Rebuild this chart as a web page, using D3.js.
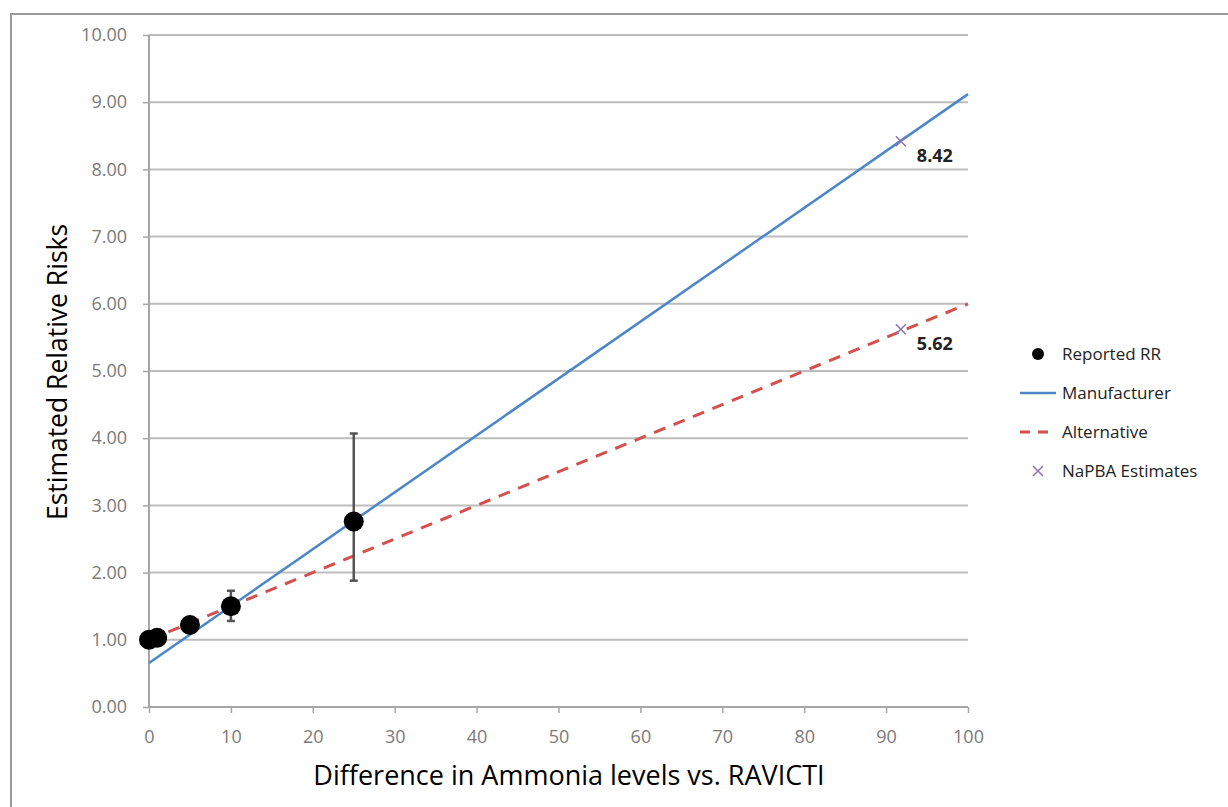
<!DOCTYPE html>
<html>
<head>
<meta charset="utf-8">
<script src="https://cdn.jsdelivr.net/npm/d3@7"></script>
<style>
  body { margin: 0; background: #fff; }
  svg { display: block; font-family: "Open Sans", sans-serif; }
</style>
</head>
<body>
<svg id="chart" width="1228" height="807"></svg>
<script>
// reported relative risks with error bars
const reportedX = [0, 1, 5, 10, 25];
const reportedY = [1.0, 1.03, 1.22, 1.50, 2.76];
const errLow = [null, null, null, 1.28, 1.88];
const errHigh = [null, null, null, 1.73, 4.07];

// fitted lines (endpoints)
const manufacturerLine = [{ x: 0, y: 0.655 }, { x: 100, y: 9.12 }];
const alternativeLine = [{ x: 0, y: 1.0 }, { x: 100, y: 6.0 }];

// NaPBA estimates
const estimatesX = [91.8, 91.8];
const estimatesY = [8.42, 5.62];
const estimateLabels = ['8.42', '5.62'];

const xTicks = [0, 10, 20, 30, 40, 50, 60, 70, 80, 90, 100];
const yTicks = [0, 1, 2, 3, 4, 5, 6, 7, 8, 9, 10];

const svg = d3.select('#chart');

// outer frame (left and top edges only visible)
svg.append('path')
	.attr('d', 'M11,807 V14 H1228')
	.attr('fill', 'none')
	.attr('stroke', '#9a9a9a')
	.attr('stroke-width', 2);

const x = d3.scaleLinear().domain([0, 100]).range([149, 968]);
const y = d3.scaleLinear().domain([0, 10]).range([707, 35]);

// gridlines
svg.append('g').selectAll('line').data(yTicks.slice(1)).enter()
	.append('line')
	.attr('x1', x(0)).attr('x2', x(100))
	.attr('y1', d => y(d)).attr('y2', d => y(d))
	.attr('stroke', '#bdbdbd').attr('stroke-width', 2);

// y axis
const yAxis = svg.append('g')
	.attr('transform', 'translate(' + x(0) + ',0)')
	.call(d3.axisLeft(y).tickValues(yTicks).tickFormat(d3.format('.2f')).tickSize(6).tickPadding(16));
// x axis
const xAxis = svg.append('g')
	.attr('transform', 'translate(0,' + y(0) + ')')
	.call(d3.axisBottom(x).tickValues(xTicks).tickSize(6).tickPadding(17));

[yAxis, xAxis].forEach(a => {
	a.select('.domain').attr('stroke', '#a6a6a6').attr('stroke-width', 2);
	a.selectAll('.tick line').attr('stroke', '#a6a6a6').attr('stroke-width', 1.5);
	a.selectAll('.tick text').attr('fill', '#7a7a7a').style('font-size', '18px')
		.style('font-family', '"Open Sans", sans-serif');
});
xAxis.select('.domain').attr('d', 'M' + x(0) + ',0H' + x(100));
yAxis.select('.domain').attr('d', 'M0,' + y(0) + 'V' + y(10));

const line = d3.line().x(d => x(d.x)).y(d => y(d.y));

svg.append('path').datum(alternativeLine)
	.attr('d', line)
	.attr('fill', 'none')
	.attr('stroke', '#d2504d')
	.attr('stroke-width', 3)
	.attr('stroke-dasharray', '12,9');

svg.append('path').datum(manufacturerLine)
	.attr('d', line)
	.attr('fill', 'none')
	.attr('stroke', '#4a86c8')
	.attr('stroke-width', 2.5);

// error bars
const errData = reportedX.map((v, i) => ({ x: v, lo: errLow[i], hi: errHigh[i] })).filter(d => d.lo !== null);
const eb = svg.append('g').selectAll('g').data(errData).enter().append('g')
	.attr('stroke', '#555').attr('stroke-width', 2.5);
eb.append('line')
	.attr('x1', d => x(d.x)).attr('x2', d => x(d.x))
	.attr('y1', d => y(d.lo)).attr('y2', d => y(d.hi));
eb.append('line')
	.attr('x1', d => x(d.x) - 4).attr('x2', d => x(d.x) + 4)
	.attr('y1', d => y(d.lo)).attr('y2', d => y(d.lo));
eb.append('line')
	.attr('x1', d => x(d.x) - 4).attr('x2', d => x(d.x) + 4)
	.attr('y1', d => y(d.hi)).attr('y2', d => y(d.hi));

// reported points
svg.append('g').selectAll('circle').data(reportedX).enter()
	.append('circle')
	.attr('cx', d => x(d))
	.attr('cy', (d, i) => y(reportedY[i]))
	.attr('r', 10)
	.attr('fill', '#000');

// NaPBA estimates
const est = svg.append('g').selectAll('g').data(estimatesX).enter().append('g')
	.attr('transform', (d, i) => 'translate(' + x(d) + ',' + y(estimatesY[i]) + ')');
est.append('path')
	.attr('d', 'M-5,-5L5,5M-5,5L5,-5')
	.attr('stroke', '#8e72b8').attr('stroke-width', 1.5);
est.append('text')
	.attr('x', 16).attr('y', 21)
	.attr('font-size', 18).attr('font-weight', 'bold').attr('fill', '#222')
	.text((d, i) => estimateLabels[i]);

// axis titles
svg.append('text')
	.attr('x', 569).attr('y', 785)
	.attr('text-anchor', 'middle')
	.attr('font-size', 27).attr('fill', '#000')
	.text('Difference in Ammonia levels vs. RAVICTI');
svg.append('text')
	.attr('transform', 'translate(67,372) rotate(-90)')
	.attr('text-anchor', 'middle')
	.attr('font-size', 26.5).attr('fill', '#000')
	.text('Estimated Relative Risks');

// legend
const legendItems = ['Reported RR', 'Manufacturer', 'Alternative', 'NaPBA Estimates'];
const lg = svg.append('g').selectAll('g').data(legendItems).enter().append('g')
	.attr('transform', (d, i) => 'translate(1038,' + (354 + i * 39) + ')');
lg.append('text')
	.attr('x', 24).attr('y', 6)
	.attr('font-size', 17).attr('fill', '#222')
	.text(d => d);
lg.filter((d, i) => i === 0).append('circle').attr('r', 6).attr('fill', '#000');
lg.filter((d, i) => i === 1).append('line')
	.attr('x1', -18).attr('x2', 18).attr('stroke', '#4a86c8').attr('stroke-width', 2.5);
lg.filter((d, i) => i === 2).append('line')
	.attr('x1', -18).attr('x2', 18).attr('stroke', '#d2504d').attr('stroke-width', 3)
	.attr('stroke-dasharray', '10,8');
lg.filter((d, i) => i === 3).append('path')
	.attr('d', 'M-5,-5L5,5M-5,5L5,-5')
	.attr('stroke', '#8e72b8').attr('stroke-width', 1.5);
</script>
</body>
</html>
